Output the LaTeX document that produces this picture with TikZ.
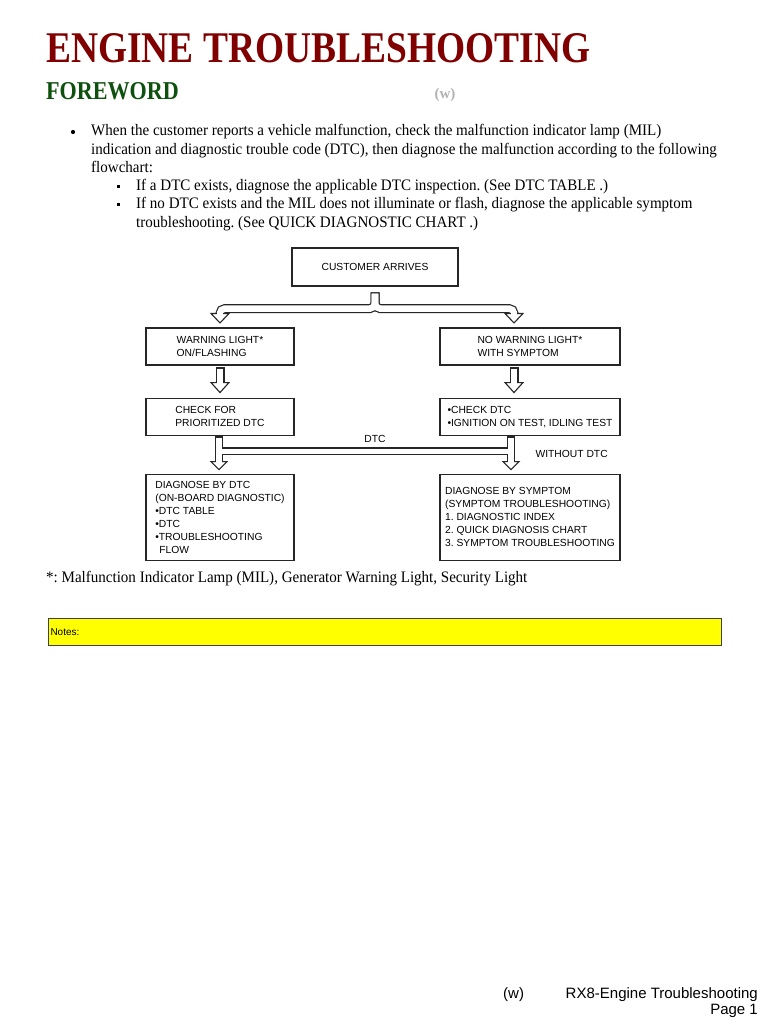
\documentclass[tikz,border=0pt]{standalone}
\usepackage{fontspec}
\setmainfont{Liberation Serif}
\newfontfamily\flowfont{Liberation Sans}
\usetikzlibrary{positioning,calc}
\frenchspacing

\definecolor{titlered}{RGB}{128,0,0}
\definecolor{forewordgreen}{RGB}{14,80,14}
\definecolor{wgray}{RGB}{178,178,178}
\definecolor{notesyellow}{RGB}{255,255,0}

\tikzset{
  box/.style={draw=black!85, line width=1.1pt, align=left, inner sep=0pt, font=\flowfont\fontsize{10.3}{13}\selectfont},
  lbl/.style={inner sep=0pt, font=\flowfont\fontsize{10.3}{13}\selectfont},
  bodytext/.style={inner sep=0pt, anchor=base west, xscale=0.94, font=\fontsize{16}{18}\selectfont},
  shaftout/.style={draw=black!85, line width=#1},
  shaftout/.default=9pt,
  shaftin/.style={draw=white, line width=#1},
  shaftin/.default=6.6pt,
  head/.style={draw=black!85, fill=white, line width=1.1pt, line join=miter},
  dot/.style={circle, fill, inner sep=0pt, minimum size=4.2pt},
  sqdot/.style={rectangle, fill, inner sep=0pt, minimum size=3.6pt},
}

\begin{document}
\begin{tikzpicture}[x=1pt, y=-1pt, node distance=32pt]
  \path[use as bounding box, fill=white] (0,0) rectangle (768,1024);

  \node[anchor=base west, inner sep=0pt, xscale=0.855, text=titlered, font=\bfseries\fontsize{43.8}{44}\selectfont] (title) at (46,63) {ENGINE TROUBLESHOOTING};
  \node[anchor=base west, inner sep=0pt, xscale=0.86, text=forewordgreen, font=\bfseries\fontsize{25.7}{26}\selectfont] (foreword) at (46,100) {FOREWORD};
  \node[anchor=base, inner sep=0pt, text=wgray, font=\bfseries\fontsize{15}{16}\selectfont] (wmark) at (445,99) {(w)};

  \node[dot] (b1) at (73,132) {};
  \node[bodytext] (l1) at (91,136) {When the customer reports a vehicle malfunction, check the malfunction indicator lamp (MIL)};
  \node[bodytext] (l2) at (91,154.2) {indication and diagnostic trouble code (DTC), then diagnose the malfunction according to the following};
  \node[bodytext] (l3) at (91,172.4) {flowchart:};
  \node[sqdot] (b2) at (118.5,186.5) {};
  \node[bodytext] (l4) at (136,191) {If a DTC exists, diagnose the applicable DTC inspection. (See DTC TABLE .)};
  \node[sqdot] (b3) at (118.5,204.5) {};
  \node[bodytext] (l5) at (136,209) {If no DTC exists and the MIL does not illuminate or flash, diagnose the applicable symptom};
  \node[bodytext] (l6) at (136,227) {troubleshooting. (See QUICK DIAGNOSTIC CHART .)};

  \node[box, minimum width=166pt, minimum height=38pt] (cust) at (375,267) {CUSTOMER ARRIVES};
  \node[box, minimum width=148pt, minimum height=37pt] (warn) at (220,346.5) {WARNING LIGHT*\\ON/FLASHING};
  \node[box, minimum width=180pt, minimum height=37pt] (nowarn) at (530,346.5) {NO WARNING LIGHT*\\WITH SYMPTOM};
  \node[box, minimum width=148pt, minimum height=37pt, below=of warn] (check) {CHECK FOR\\PRIORITIZED DTC};
  \node[box, minimum width=180pt, minimum height=37pt, below=of nowarn] (checkdtc) {•CHECK DTC\\•IGNITION ON TEST, IDLING TEST};
  \node[box, minimum width=148pt, minimum height=86pt, below=38pt of check] (bydtc) {DIAGNOSE BY DTC\\(ON-BOARD DIAGNOSTIC)\\•DTC TABLE\\•DTC\\•TROUBLESHOOTING\\\hspace*{4pt}FLOW};
  \node[box, minimum width=180pt, minimum height=86pt, below=38pt of checkdtc] (bysym) {DIAGNOSE BY SYMPTOM\\(SYMPTOM TROUBLESHOOTING)\\1. DIAGNOSTIC INDEX\\2. QUICK DIAGNOSIS CHART\\3. SYMPTOM TROUBLESHOOTING};

  \coordinate (ysplit) at ($(cust.south)+(0,22)$);
  \coordinate (yleft) at ($(warn.north)+(0,-10)$);
  \coordinate (yright) at ($(nowarn.north)+(-16,-10)$);
  \coordinate (bandl) at ($(check.south)+(-1,15.5)$);
  \coordinate (bandr) at ($(checkdtc.south)+(-19,15.5)$);

  % outlines first, white cores on top
  \draw[shaftout, rounded corners=5pt] ($(cust.south)+(0,5.8)$) -- (ysplit) -| (yleft);
  \draw[shaftout, rounded corners=5pt] ($(cust.south)+(0,5.8)$) -- (ysplit) -| (yright);
  \draw[shaftout] ($(warn.south)+(0,1.8)$) -- ($(check.north)+(0,-13)$);
  \draw[shaftout] ($(nowarn.south)+(-16,1.8)$) -- ($(checkdtc.north)+(-16,-13)$);
  \draw[shaftout=7.5pt] ($(check.south)+(-1,0.8)$) -- ($(bydtc.north)+(-1,-10)$);
  \draw[shaftout=7.5pt] ($(checkdtc.south)+(-19,0.8)$) -- ($(bysym.north)+(-19,-10)$);
  \draw[shaftout=7.5pt] (bandl) -- (bandr);

  \draw[shaftin, rounded corners=5pt] ($(cust.south)+(0,7)$) -- (ysplit) -| (yleft);
  \draw[shaftin, rounded corners=5pt] ($(cust.south)+(0,7)$) -- (ysplit) -| (yright);
  \draw[shaftin] ($(warn.south)+(0,3)$) -- ($(check.north)+(0,-13)$);
  \draw[shaftin] ($(nowarn.south)+(-16,3)$) -- ($(checkdtc.north)+(-16,-13)$);
  \draw[shaftin=5.2pt] ($(check.south)+(-1,2)$) -- ($(bydtc.north)+(-1,-10)$);
  \draw[shaftin=5.2pt] ($(checkdtc.south)+(-19,2)$) -- node[lbl, pos=0.64, right=22pt] (nodtc) {WITHOUT DTC} ($(bysym.north)+(-19,-10)$);
  \draw[shaftin=5.2pt] (bandl) -- node[lbl, pos=0.534, above=6pt] (dtc) {DTC} (bandr);

  \draw[head] ($(warn.north)+(-9,-14)$) -- ($(warn.north)+(9,-14)$) -- ($(warn.north)+(0,-4.5)$) -- cycle;
  \draw[head] ($(nowarn.north)+(-25,-14)$) -- ($(nowarn.north)+(-7,-14)$) -- ($(nowarn.north)+(-16,-4.5)$) -- cycle;
  \draw[head] ($(check.north)+(-9,-15)$) -- ($(check.north)+(9,-15)$) -- ($(check.north)+(0,-5)$) -- cycle;
  \draw[head] ($(checkdtc.north)+(-25,-15)$) -- ($(checkdtc.north)+(-7,-15)$) -- ($(checkdtc.north)+(-16,-5)$) -- cycle;
  \draw[head] ($(bydtc.north)+(-9,-12)$) -- ($(bydtc.north)+(7,-12)$) -- ($(bydtc.north)+(-1,-4)$) -- cycle;
  \draw[head] ($(bysym.north)+(-27,-12)$) -- ($(bysym.north)+(-11,-12)$) -- ($(bysym.north)+(-19,-4)$) -- cycle;

  \draw[shaftin] ($(warn.north)+(0,-16)$) -- ($(warn.north)+(0,-12.5)$);
  \draw[shaftin] ($(nowarn.north)+(-16,-16)$) -- ($(nowarn.north)+(-16,-12.5)$);
  \draw[shaftin] ($(check.north)+(0,-17)$) -- ($(check.north)+(0,-13.5)$);
  \draw[shaftin] ($(checkdtc.north)+(-16,-17)$) -- ($(checkdtc.north)+(-16,-13.5)$);
  \draw[shaftin=5.2pt] ($(bydtc.north)+(-1,-14)$) -- ($(bydtc.north)+(-1,-10.5)$);
  \draw[shaftin=5.2pt] ($(bysym.north)+(-19,-14)$) -- ($(bysym.north)+(-19,-10.5)$);

  \node[bodytext] (star) at (46,582) {*: Malfunction Indicator Lamp (MIL), Generator Warning Light, Security Light};

  \node[draw=black!75, fill=notesyellow, line width=1pt, anchor=north west, text width=669pt, minimum height=27pt, inner xsep=2pt, inner ysep=0pt, align=left, font=\flowfont\fontsize{10}{12}\selectfont] (notes) at (48,618) {Notes:};

  \node[anchor=base west, inner sep=0pt, font=\flowfont\fontsize{15}{16}\selectfont] (fw) at (503,998) {(w)};
  \node[anchor=base east, inner sep=0pt, font=\flowfont\fontsize{15}{16}\selectfont] (fname) at (758,998) {RX8-Engine Troubleshooting};
  \node[anchor=base east, inner sep=0pt, font=\flowfont\fontsize{15}{16}\selectfont] (fpage) at (758,1014) {Page 1};
\end{tikzpicture}
\end{document}
